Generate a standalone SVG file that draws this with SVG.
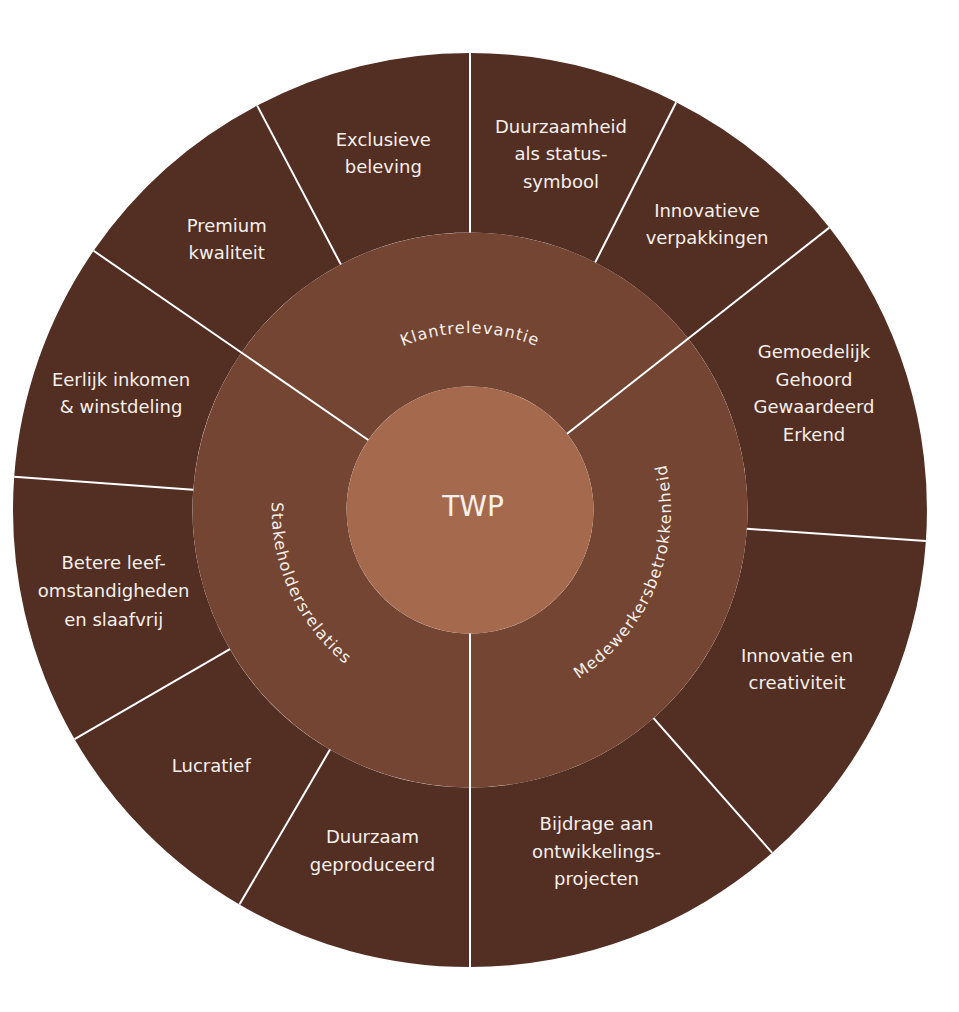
<svg xmlns="http://www.w3.org/2000/svg" width="959" height="1012" viewBox="0 0 959 1012">
<style>
.outer{fill:#532E23}
.mid{fill:#734532}
.core{fill:#A56A4E}
.lbl{font-family:"DejaVu Sans","Liberation Sans",sans-serif;font-size:18px;fill:#F6F0EB;text-anchor:middle}
.arc{font-family:"DejaVu Sans","Liberation Sans",sans-serif;font-size:16px;letter-spacing:1.1px;fill:#F6F0EB}
.div{stroke:#FFFFFF;stroke-width:2;fill:none}
</style>
<defs>
<path id="pK" d="M 293 510 A 177 177 0 0 1 647 510"/>
<path id="pM" d="M 394.7 696.4 A 201 201 0 0 0 545.3 323.6"/>
<path id="pS" d="M 387.1 328 A 200 200 0 0 0 552.9 692"/>
</defs>
<rect width="959" height="1012" fill="#FFFFFF"/>

<g id="outer-premium">
<path class="outer" d="M 241.5 352.6 L 93.6 250.8 A 457 457 0 0 1 257.2 105.6 L 340.8 264.4 A 277.5 277.5 0 0 0 241.5 352.6 Z"/>
<text class="lbl" x="226.7" y="231.7">Premium<tspan x="226.7" y="259">kwaliteit</tspan></text>
</g>
<g id="outer-exclusieve">
<path class="outer" d="M 340.8 264.4 L 257.2 105.6 A 457 457 0 0 1 470 53 L 470 232.5 A 277.5 277.5 0 0 0 340.8 264.4 Z"/>
<text class="lbl" x="383.3" y="146">Exclusieve<tspan x="383.3" y="173.3">beleving</tspan></text>
</g>
<g id="outer-duurzaamheid">
<path class="outer" d="M 470 232.5 L 470 53 A 457 457 0 0 1 676.2 102.2 L 595.2 262.4 A 277.5 277.5 0 0 0 470 232.5 Z"/>
<text class="lbl" x="561" y="132.5">Duurzaamheid<tspan x="561" y="160">als status-</tspan><tspan x="561" y="187.5">symbool</tspan></text>
</g>
<g id="outer-verpakkingen">
<path class="outer" d="M 595.2 262.4 L 676.2 102.2 A 457 457 0 0 1 829.3 227.6 L 688.2 338.5 A 277.5 277.5 0 0 0 595.2 262.4 Z"/>
<text class="lbl" x="707" y="216.7">Innovatieve<tspan x="707" y="244">verpakkingen</tspan></text>
</g>
<g id="outer-gemoedelijk">
<path class="outer" d="M 688.2 338.5 L 829.3 227.6 A 457 457 0 0 1 925.9 541 L 746.9 528.8 A 277.5 277.5 0 0 0 688.2 338.5 Z"/>
<text class="lbl" x="814" y="358.3">Gemoedelijk<tspan x="814" y="385.8">Gehoord</tspan><tspan x="814" y="413.3">Gewaardeerd</tspan><tspan x="814" y="440.8">Erkend</tspan></text>
</g>
<g id="outer-innovatie">
<path class="outer" d="M 746.9 528.8 L 925.9 541 A 457 457 0 0 1 772.2 852.8 L 653.5 718.2 A 277.5 277.5 0 0 0 746.9 528.8 Z"/>
<text class="lbl" x="797" y="661.7">Innovatie en<tspan x="797" y="689.3">creativiteit</tspan></text>
</g>
<g id="outer-bijdrage">
<path class="outer" d="M 653.5 718.2 L 772.2 852.8 A 457 457 0 0 1 470 967 L 470 787.5 A 277.5 277.5 0 0 0 653.5 718.2 Z"/>
<text class="lbl" x="596.5" y="830">Bijdrage aan<tspan x="596.5" y="857.5">ontwikkelings-</tspan><tspan x="596.5" y="885">projecten</tspan></text>
</g>
<g id="outer-duurzaam">
<path class="outer" d="M 470 787.5 L 470 967 A 457 457 0 0 1 239.4 904.6 L 330 749.6 A 277.5 277.5 0 0 0 470 787.5 Z"/>
<text class="lbl" x="372.5" y="843.3">Duurzaam<tspan x="372.5" y="871">geproduceerd</tspan></text>
</g>
<g id="outer-lucratief">
<path class="outer" d="M 330 749.6 L 239.4 904.6 A 457 457 0 0 1 74.6 739.2 L 229.9 649.2 A 277.5 277.5 0 0 0 330 749.6 Z"/>
<text class="lbl" x="211.3" y="772.3">Lucratief</text>
</g>
<g id="outer-leefomstandigheden">
<path class="outer" d="M 229.9 649.2 L 74.6 739.2 A 457 457 0 0 1 14.2 476.8 L 193.2 489.8 A 277.5 277.5 0 0 0 229.9 649.2 Z"/>
<text class="lbl" x="113.7" y="569.3">Betere leef-<tspan x="113.7" y="597.3">omstandigheden</tspan><tspan x="113.7" y="625.5">en slaafvrij</tspan></text>
</g>
<g id="outer-inkomen">
<path class="outer" d="M 193.2 489.8 L 14.2 476.8 A 457 457 0 0 1 93.6 250.8 L 241.5 352.6 A 277.5 277.5 0 0 0 193.2 489.8 Z"/>
<text class="lbl" x="121" y="386">Eerlijk inkomen<tspan x="121" y="413.3">&amp; winstdeling</tspan></text>
</g>

<g id="mid-klantrelevantie">
<path class="mid" d="M 368.3 440 L 241.5 352.6 A 277.5 277.5 0 0 1 688.2 338.5 L 567.1 433.7 A 123.5 123.5 0 0 0 368.3 440 Z"/>
<text class="arc"><textPath href="#pK" startOffset="50%" text-anchor="middle">Klantrelevantie</textPath></text>
</g>
<g id="mid-medewerkersbetrokkenheid">
<path class="mid" d="M 567.1 433.7 L 688.2 338.5 A 277.5 277.5 0 0 1 470 787.5 L 470 633.5 A 123.5 123.5 0 0 0 567.1 433.7 Z"/>
<text class="arc"><textPath href="#pM" startOffset="50%" text-anchor="middle">Medewerkersbetrokkenheid</textPath></text>
</g>
<g id="mid-stakeholdersrelaties">
<path class="mid" d="M 470 633.5 L 470 787.5 A 277.5 277.5 0 0 1 241.5 352.6 L 368.3 440 A 123.5 123.5 0 0 0 470 633.5 Z"/>
<text class="arc"><textPath href="#pS" startOffset="50%" text-anchor="middle">Stakeholdersrelaties</textPath></text>
</g>

<g id="center-twp">
<circle class="core" cx="470" cy="510" r="123.5"/>
<text x="473" y="515.7" font-family="DejaVu Sans, Liberation Sans, sans-serif" font-size="28" fill="#F6F0EB" text-anchor="middle">TWP</text>
</g>

<g id="dividers" class="div">
<line x1="470" y1="232.5" x2="470" y2="53"/>
<line x1="340.8" y1="264.4" x2="257.2" y2="105.6"/>
<line x1="368.3" y1="440" x2="93.6" y2="250.8"/>
<line x1="193.2" y1="489.8" x2="14.2" y2="476.8"/>
<line x1="229.9" y1="649.2" x2="74.6" y2="739.2"/>
<line x1="330" y1="749.6" x2="239.4" y2="904.6"/>
<line x1="470" y1="633.5" x2="470" y2="967"/>
<line x1="653.5" y1="718.2" x2="772.2" y2="852.8"/>
<line x1="746.9" y1="528.8" x2="925.9" y2="541"/>
<line x1="567.1" y1="433.7" x2="829.3" y2="227.6"/>
<line x1="595.2" y1="262.4" x2="676.2" y2="102.2"/>
</g>
</svg>
